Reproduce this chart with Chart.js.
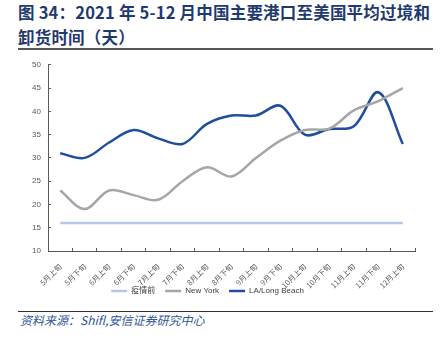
<!DOCTYPE html>
<html lang="zh">
<head>
  <meta charset="UTF-8">
  <title>2021年5-12月中国主要港口至美国平均过境和卸货时间</title>
  <script src="https://cdn.jsdelivr.net/npm/chart.js"></script>
  <style>
    body {
      margin: 0;
      width: 448px;
      height: 340px;
      background: #fff;
      position: relative;
      overflow: hidden;
      font-family: 'Noto Sans CJK SC', 'Noto Sans', sans-serif;
    }
    .title {
      position: absolute;
      left: 18px;
      top: 0px;
      font-size: 16.5px;
      font-weight: bold;
      line-height: 25px;
      letter-spacing: 0.2px;
      color: #1f3a6e;
      white-space: nowrap;
    }
    .rule-top {
      position: absolute;
      left: 18px;
      top: 48px;
      width: 415px;
      height: 2px;
      background: #555;
    }
    .chart-box {
      position: absolute;
      left: 0;
      top: 50px;
      width: 448px;
      height: 255px;
    }
    .rule-bottom {
      position: absolute;
      left: 18px;
      top: 311px;
      width: 415px;
      height: 1px;
      background: #333;
    }
    .source {
      position: absolute;
      left: 20px;
      top: 311px;
      font-size: 12px;
      font-style: italic;
      color: #2f5597;
    }
  </style>
</head>
<body>

<div class="title">图 34：2021 年 5-12 月中国主要港口至美国平均过境和<br>卸货时间（天）</div>
<div class="rule-top"></div>
<div class="chart-box"><canvas id="portChart"></canvas></div>
<div class="rule-bottom"></div>
<div class="source">资料来源：Shifl,安信证券研究中心</div>

<script>
// data
const periods = ['5月上旬', '5月下旬', '6月上旬', '6月下旬', '7月上旬', '7月下旬', '8月上旬', '8月下旬',
  '9月上旬', '9月下旬', '10月上旬', '10月下旬', '11月上旬', '11月下旬', '12月上旬'];
const preCovid = [16, 16, 16, 16, 16, 16, 16, 16, 16, 16, 16, 16, 16, 16, 16];
const newYork = [23, 19, 23, 22, 21, 25, 28, 26, 30, 33.7, 36, 36.3, 40.2, 42.2, 45];
const laLongBeach = [31, 30, 33.3, 36, 34.2, 33, 37.3, 39.1, 39.1, 41.2, 35, 36.2, 36.8, 44.1, 33];
const yTicks = [10, 15, 20, 25, 30, 35, 40, 45, 50];

const axisColor = '#595959';
const cjkFont = "'Noto Sans CJK SC', sans-serif";
const latinFont = "'Liberation Sans', 'Noto Sans CJK SC', sans-serif";

function series(label, data, color) {
  return {
    label: label,
    data: data,
    borderColor: color,
    backgroundColor: color,
    borderWidth: 2.5,
    pointRadius: 0,
    pointStyle: 'line',
    tension: 0.35,
    fill: false
  };
}

// let the rotated x labels hang below the axis box (legend sits close under them)
const noLabelClip = {
  id: 'noLabelClip',
  beforeDraw(chart) {
    chart.scales.x._computeLabelArea = () => undefined;
  }
};

const ctx = document.getElementById('portChart').getContext('2d');
new Chart(ctx, {
  type: 'line',
  data: {
    labels: periods,
    datasets: [
      series('疫情前', preCovid, '#b4c7e7'),
      series('New York', newYork, '#a6a6a6'),
      series('LA/Long Beach', laLongBeach, '#1f4e9c')
    ]
  },
  plugins: [noLabelClip],
  options: {
    responsive: true,
    maintainAspectRatio: false,
    animation: false,
    layout: { padding: { top: 5, right: 33, left: 0, bottom: 0 } },
    plugins: {
      tooltip: { enabled: false },
      legend: {
        position: 'bottom',
        labels: {
          usePointStyle: true,
          pointStyleWidth: 16,
          boxHeight: 8,
          padding: 10,
          color: '#404040',
          font: { family: latinFont, size: 8 }
        }
      }
    },
    scales: {
      x: {
        offset: true,
        afterFit: s => { s.height = 26; },
        // negative tick length = tick marks pointing into the plot
        grid: { display: true, drawOnChartArea: false, drawTicks: true, tickLength: -3, color: axisColor, offset: true },
        border: { display: true, color: axisColor, width: 1 },
        ticks: {
          minRotation: 45,
          maxRotation: 45,
          autoSkip: false,
          padding: 14,
          color: axisColor,
          font: { family: cjkFont, size: 7.5 }
        }
      },
      y: {
        min: 10,
        max: 50,
        afterFit: s => { s.width = 48; },
        afterBuildTicks: s => { s.ticks = yTicks.map(v => ({ value: v })); },
        grid: { display: true, drawOnChartArea: false, drawTicks: true, tickLength: -3, color: axisColor },
        border: { display: true, color: axisColor, width: 1 },
        ticks: {
          padding: 10,
          color: axisColor,
          font: { family: latinFont, size: 8 }
        }
      }
    }
  }
});
</script>

</body>
</html>
